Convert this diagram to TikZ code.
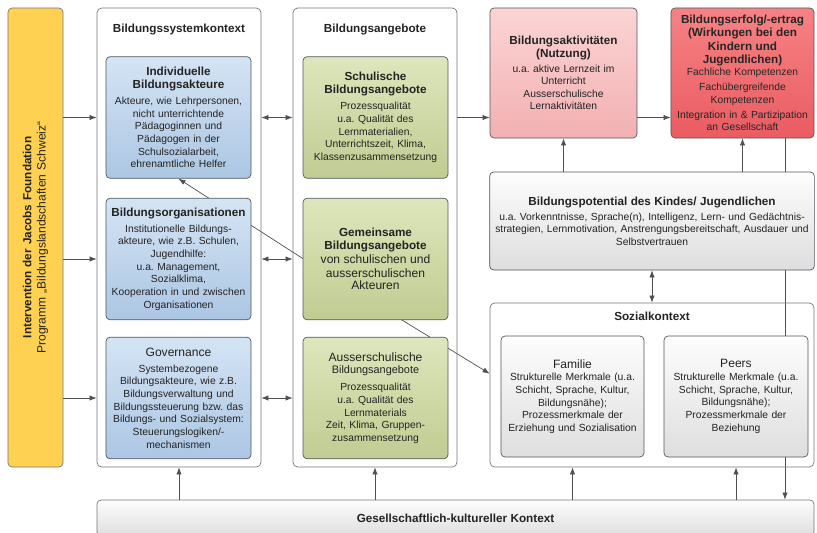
\documentclass[tikz,border=0pt]{standalone}
\usepackage{fontspec}
\setmainfont{Liberation Sans}
\usetikzlibrary{arrows.meta,positioning,backgrounds}
\setlength{\parindent}{0pt}
\frenchspacing

\definecolor{linegray}{RGB}{80,80,80}
\definecolor{boxline}{RGB}{80,88,96}
\definecolor{outerline}{RGB}{120,120,120}
\definecolor{textgray}{RGB}{35,35,35}
\definecolor{jacobsyellow}{RGB}{255,209,82}
\definecolor{bluetop}{RGB}{212,228,244}
\definecolor{bluebot}{RGB}{172,198,227}
\definecolor{greentop}{RGB}{222,230,188}
\definecolor{greenbot}{RGB}{192,204,146}
\definecolor{pinktop}{RGB}{252,212,212}
\definecolor{pinkbot}{RGB}{242,176,178}
\definecolor{redtop}{RGB}{246,130,132}
\definecolor{redbot}{RGB}{234,92,98}
\definecolor{graytop}{RGB}{253,253,253}
\definecolor{graybot}{RGB}{222,222,222}

\newcommand{\boxhead}{\fontsize{10}{11.5}\selectfont\bfseries}
\newcommand{\boxbig}{\fontsize{10.3}{12}\selectfont}
\newcommand{\boxtext}{\fontsize{8.8}{10.8}\selectfont}

\tikzset{
  box/.style={draw=boxline, line width=0.6pt, rounded corners=3.5pt, align=center,
    text=textgray, font=\boxtext, inner sep=2pt},
  bluebox/.style={box, top color=bluetop, bottom color=bluebot,
    minimum width=4.35cm, minimum height=3.65cm, text width=4.2cm},
  greenbox/.style={box, top color=greentop, bottom color=greenbot,
    minimum width=4.35cm, minimum height=3.65cm, text width=4.2cm},
  graybox/.style={box, top color=graytop, bottom color=graybot},
  outerbox/.style={draw=outerline, line width=0.6pt, rounded corners=4pt,
    minimum width=4.92cm, minimum height=13.77cm},
  titletext/.style={font=\boxhead, text=textgray, inner sep=0pt},
  conn/.style={draw=linegray, line width=0.6pt},
}

\begin{document}
\begin{tikzpicture}[x=0.03cm, y=-0.03cm, >={Latex[length=6pt,width=4.5pt]}]
  \useasboundingbox (0,0) rectangle (817,532); % page

  \node[box, fill=jacobsyellow, draw=outerline, minimum width=1.65cm, minimum height=13.77cm] (jacobs) at (35.5,237.5) {}; % Jacobs Foundation
  \node[rotate=90, align=center, text width=12cm, text=textgray, font=\boxbig] (jacobstext) at (jacobs) {{\boxhead Intervention der Jacobs Foundation}\\ Programm „Bildungslandschaften Schweiz“}; % Jacobs label

  \node[outerbox] (sys) at (179,237.5) {}; % Bildungssystemkontext frame
  \node[titletext, below=14pt of sys.north] (systitle) {Bildungssystemkontext}; % frame title
  \node[bluebox] (indiv) at (178.5,117.5) {{\boxhead Individuelle\\ Bildungsakteure}\\[3pt] Akteure, wie Lehrpersonen,\\ nicht unterrichtende\\ Pädagoginnen und\\ Pädagogen in der\\ Schulsozialarbeit,\\ ehrenamtliche Helfer}; % Individuelle Bildungsakteure
  \node[bluebox] (org) at (178.5,259) {{\boxhead Bildungsorganisationen}\\[3pt] Institutionelle Bildungs-\\ akteure, wie z.B. Schulen,\\ Jugendhilfe:\\ u.a. Management,\\ Sozialklima,\\ Kooperation in und zwischen\\ Organisationen}; % Bildungsorganisationen
  \node[bluebox] (gov) at (178.5,398) {{\boxbig Governance}\\[3pt] Systembezogene\\ Bildungsakteure, wie z.B.\\ Bildungsverwaltung und\\ Bildungssteuerung bzw. das\\ Bildungs- und Sozialsystem:\\ Steuerungslogiken/-\\ mechanismen}; % Governance

  \node[outerbox] (ang) at (375,237.5) {}; % Bildungsangebote frame
  \node[titletext, below=14pt of ang.north] (angtitle) {Bildungsangebote}; % frame title
  \node[greenbox] (schul) at (375.5,117.5) {{\boxhead Schulische\\ Bildungsangebote}\\[3pt] Prozessqualität\\ u.a. Qualität des\\ Lernmaterialien,\\ Unterrichtszeit, Klima,\\ Klassenzusammensetzung}; % Schulische Angebote
  \node[greenbox] (gem) at (375.5,259) {{\boxhead Gemeinsame\\ Bildungsangebote}\\ {\boxbig von schulischen und\\ ausserschulischen\\ Akteuren}}; % Gemeinsame Angebote
  \node[greenbox] (aus) at (375.5,398) {{\boxbig Ausserschulische}\\ {\fontsize{9.3}{11}\selectfont Bildungsangebote}\\[4pt] Prozessqualität\\ u.a. Qualität des\\ Lernmaterials\\ Zeit, Klima, Gruppen-\\ zusammensetzung}; % Ausserschulische Angebote

  \node[box, top color=pinktop, bottom color=pinkbot, minimum width=4.41cm, minimum height=3.9cm, text width=4.25cm] (akt) at (563.5,73) {{\boxhead Bildungsaktivitäten\\ (Nutzung)}\\[2pt] u.a. aktive Lernzeit im\\ Unterricht\\ Ausserschulische\\ Lernaktivitäten}; % Bildungsaktivitaeten
  \node[box, top color=redtop, bottom color=redbot, text=black!85, minimum width=4.29cm, minimum height=3.9cm, text width=4.15cm] (erfolg) at (742.5,73) {{\boxhead Bildungserfolg/-ertrag\\ (Wirkungen bei den\\ Kindern und\\ Jugendlichen)}\\ Fachliche Kompetenzen\\[2pt] Fachübergreifende\\ Kompetenzen\\[2pt] Integration in \& Partizipation\\ an Gesellschaft}; % Bildungserfolg
  \node[graybox, minimum width=9.72cm, minimum height=2.94cm, text width=9.6cm] (pot) at (652,221) {{\boxhead Bildungspotential des Kindes/ Jugendlichen}\\[2pt] u.a. Vorkenntnisse, Sprache(n), Intelligenz, Lern- und Gedächtnis-\\ strategien, Lernmotivation, Anstrengungsbereitschaft, Ausdauer und\\ Selbstvertrauen}; % Bildungspotential

  \node[outerbox, minimum width=9.72cm, minimum height=4.92cm] (sozial) at (652,385) {}; % Sozialkontext frame
  \node[titletext, below=8pt of sozial.north] (sozialtitle) {Sozialkontext}; % frame title
  \node[graybox, minimum width=4.29cm, minimum height=3.63cm, text width=4.15cm] (familie) at (572.5,396.5) {{\boxbig Familie}\\ Strukturelle Merkmale (u.a.\\ Schicht, Sprache, Kultur,\\ Bildungsnähe);\\ Prozessmerkmale der\\ Erziehung und Sozialisation}; % Familie
  \node[graybox, minimum width=4.32cm, minimum height=3.63cm, text width=4.15cm] (peers) at (736,396.5) {{\boxbig Peers}\\ Strukturelle Merkmale (u.a.\\ Schicht, Sprache, Kultur,\\ Bildungsnähe);\\ Prozessmerkmale der\\ Beziehung}; % Peers

  \node[graybox, draw=outerline, minimum width=21.51cm, minimum height=1.08cm, text width=21cm] (gesell) at (455.5,518) {{\boxhead Gesellschaftlich-kultureller Kontext}}; % Gesellschaft

  \draw[conn,->] (jacobs.east |- indiv) -- (sys.west |- indiv); % Jacobs to system
  \draw[conn,->] (jacobs.east |- org) -- (sys.west |- org); % Jacobs to system
  \draw[conn,->] (jacobs.east |- gov) -- (sys.west |- gov); % Jacobs to system
  \draw[conn,<->] (sys.east |- indiv) -- (ang.west |- indiv); % system - offers
  \draw[conn,<->] (sys.east |- org) -- (ang.west |- org); % system - offers
  \draw[conn,<->] (sys.east |- gov) -- (ang.west |- gov); % system - offers
  \draw[conn,->] (ang.east |- schul) -- (akt.west |- schul); % offers to use
  \draw[conn,->] (akt.east |- schul) -- (erfolg.west |- schul); % use to outcome
  \draw[conn,->] (akt.south |- pot.north) -- (akt.south); % potential to use
  \draw[conn,->] (erfolg.south |- pot.north) -- (erfolg.south); % potential to outcome
  \draw[conn,<->] (pot.south) -- (sozial.north); % potential - social context
  \draw[conn,->] (sys.south |- gesell.north) -- (sys.south); % society to system
  \draw[conn,->] (ang.south |- gesell.north) -- (ang.south); % society to offers
  \draw[conn,->] (familie.south |- gesell.north) -- (familie.south |- sozial.south); % society to social
  \draw[conn,->] (peers.south |- gesell.north) -- (peers.south |- sozial.south); % society to social

  \begin{scope}[on background layer]
    \coordinate (gemhub) at (330,276); % start inside Gemeinsame
    \coordinate (drop) at (785,138); % start below Bildungserfolg
    \draw[conn,->] (gemhub) -- (indiv.south); % Gemeinsame to Individuelle
    \draw[conn,->] (gemhub) -- (sozial.176); % Gemeinsame to Sozialkontext
    \draw[conn,->] (drop) -- (drop |- gesell.north); % outcome to society
  \end{scope}
\end{tikzpicture}
\end{document}
